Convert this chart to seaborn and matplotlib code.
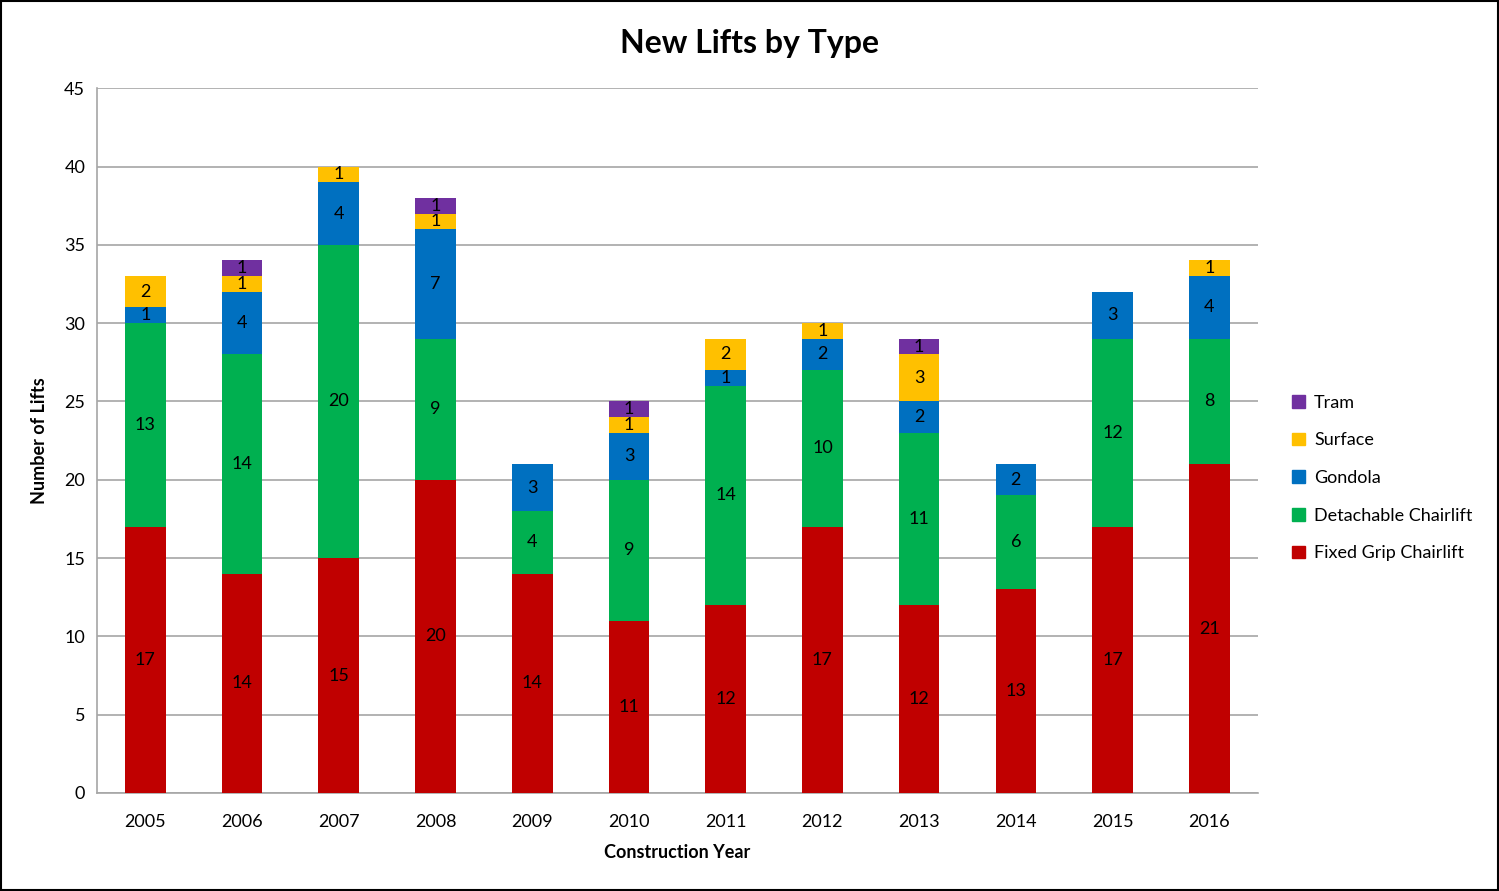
import matplotlib.pyplot as plt
import matplotlib.patches as mpatches
import seaborn as sns
import numpy as np
import pandas as pd

# 데이터
years = ['2005', '2006', '2007', '2008', '2009', '2010', '2011', '2012', '2013', '2014', '2015', '2016']
fixed_grip = [17, 14, 15, 20, 14, 11, 12, 17, 12, 13, 17, 21]
detachable = [13, 14, 20, 9, 4, 9, 14, 10, 11, 6, 12, 8]
gondola = [1, 4, 4, 7, 3, 3, 1, 2, 2, 2, 3, 4]
surface = [2, 1, 1, 1, 0, 1, 2, 1, 3, 0, 0, 1]
tram = [0, 1, 0, 1, 0, 1, 0, 0, 1, 0, 0, 0]

series = ['Fixed Grip Chairlift', 'Detachable Chairlift', 'Gondola', 'Surface', 'Tram']
colors = ['#C00000', '#00B050', '#0070C0', '#FFC000', '#7030A0']

df = pd.DataFrame({'year': years,
                   'Fixed Grip Chairlift': fixed_grip,
                   'Detachable Chairlift': detachable,
                   'Gondola': gondola,
                   'Surface': surface,
                   'Tram': tram})

sns.set_style('white')
plt.rcParams['font.family'] = ['Lato', 'DejaVu Sans']
plt.rcParams['text.color'] = 'black'
plt.rcParams['axes.labelcolor'] = 'black'
plt.rcParams['xtick.color'] = 'black'
plt.rcParams['ytick.color'] = 'black'

fig = plt.figure(figsize=(14.99, 8.91), dpi=100)
ax = fig.add_axes([0.0647, 0.11, 0.7743, 0.791])

bottom = np.zeros(len(years))
handles = []
for name, col in zip(series, colors):
    vals = df[name].to_numpy()
    sns.barplot(x='year', y=name, data=df, color=col, width=0.42,
                bottom=bottom, ax=ax, saturation=1, zorder=3,
                edgecolor=col, linewidth=0)
    cont = ax.containers[-1]
    labels = [str(v) if v > 0 else '' for v in vals]
    ax.bar_label(cont, labels=labels, label_type='center', fontsize=13, color='black')
    bottom = bottom + vals
    handles.append(mpatches.Patch(color=col, label=name))

ax.set_ylim(0, 45)
ax.set_xlim(-0.5, len(years) - 0.5)
ax.set_yticks(range(0, 46, 5))
ax.yaxis.grid(True, color='#A6A6A6', linewidth=1.2, zorder=0)
ax.tick_params(axis='both', labelsize=13, length=5, color='#A6A6A6', labelcolor='black', direction='out')
ax.tick_params(axis='x', length=0, pad=15)
for s in ['top', 'right']:
    ax.spines[s].set_visible(False)
ax.spines['left'].set_color('#A6A6A6')
ax.spines['bottom'].set_color('#A6A6A6')
ax.spines['left'].set_linewidth(1.2)
ax.spines['bottom'].set_linewidth(1.2)
# 카테고리 경계 눈금
ax.set_xticks(np.arange(-0.5, len(years)), minor=True)
ax.tick_params(axis='x', which='minor', length=5, color='#A6A6A6')

ax.set_xlabel('Construction Year', fontsize=13, fontweight='bold', labelpad=10)
ax.set_ylabel('Number of Lifts', fontsize=13, fontweight='bold', labelpad=12)
fig.suptitle('New Lifts by Type', fontsize=23, fontweight='bold', y=0.968, color='black')

ax.legend(handles=handles[::-1], loc='center left', bbox_to_anchor=(1.016, 0.447),
          frameon=False, fontsize=13, handlelength=0.7, handleheight=0.7,
          labelspacing=1.2, handletextpad=0.5)

# 바깥 테두리
fig.patches.append(mpatches.Rectangle((0.001, 0.001), 0.998, 0.998, transform=fig.transFigure,
                                      fill=False, edgecolor='black', linewidth=1.5))

fig.savefig('out.png', dpi=100)
